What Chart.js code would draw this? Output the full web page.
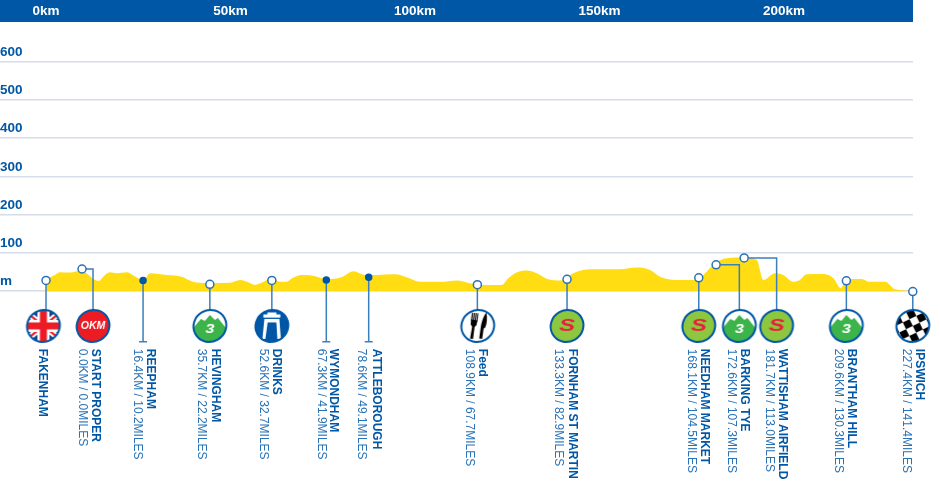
<!DOCTYPE html>
<html><head><meta charset="utf-8">
<style>html,body{margin:0;padding:0;background:#fff}canvas{display:block}</style>
<script src="https://cdn.jsdelivr.net/npm/chart.js@4"></script>
</head><body><canvas id="c" width="940" height="498"></canvas>
<script>
const distanceTicks = [0, 50, 100, 150, 200];
const heightTicks = [0, 100, 200, 300, 400, 500, 600];
const profileKm = [0,1,2.4,3.8,6.5,9.7,11.5,13.3,14.4,15.5,17.3,19.2,21.9,23.7,26.4,28.2,32.7,36.8,39,40.8,44.4,49.9,52.6,54.8,56.6,58.5,61.2,63.4,65.2,67,69.3,72,76.1,80.1,83.3,86.4,89.6,94.6,97.7,101.4,107.7,111.3,114.9,117.6,123.5,125.3,127.5,130.3,133,136.1,139.3,142.9,145.6,149.2,155.5,160.1,163.7,166.4,170.9,175.9,178.1,181.3,184.5,189,192.6,194.4,197.6,199.8,202.5,204.3,206.1,210.7,213.4,215.4,217,221.1,222.9,227.4,230.1,234.9];
const profileM = [28,35,42.5,49.5,48.6,54,42.5,29.5,27,38,49.5,47,49.5,41,28,47,42.5,38,28,22.5,21,22,29.5,23.4,16.5,22.5,34,25,25,35.6,42.5,41,32,36.5,52,42.5,42.5,44,36.5,25,25,28,21,16.5,16.5,34,48.6,54,47,31,28,47,55.6,57.3,57.3,61.7,55.6,38,29.5,29.5,42.5,73,86,88,82,29.5,47,42.5,25,29.5,44,45,34,8,31,32,25,25,5,1];
const stopNames = ["FAKENHAM","START PROPER","REEPHAM","HEVINGHAM","DRINKS","WYMONDHAM","ATTLEBOROUGH","Feed","FORNHAM ST MARTIN","NEEDHAM MARKET","BARKING TYE","WATTISHAM AIRFIELD","BRANTHAM HILL","IPSWICH"];
const stopDetails = ["","0.0KM / 0.0MILES","16.4KM / 10.2MILES","35.7KM / 22.2MILES","52.6KM / 32.7MILES","67.3KM / 41.9MILES","78.6KM / 49.1MILES","108.9KM / 67.7MILES","133.3KM / 82.9MILES","168.1KM / 104.5MILES","172.6KM / 107.3MILES","181.7KM / 113.0MILES","209.6KM / 130.3MILES","227.4KM / 141.4MILES"];
const stopKm = [0,9.76,26.3,44.4,61.2,75.96,87.45,116.9,141.2,176.9,181.6,189.2,216.9,234.9];
const stopM = [28,58,28,18,28,29,36.5,17,31,35,69,87,27,-1];
const badgeKm = [-0.7,12.74,26.3,44.4,61.2,75.96,87.45,117,141.2,176.9,187.9,198,216.9,234.9];
const stopKinds = ["uk","okm","plain","climb","drinks","plain","plain","feed","sprint","sprint","climb","sprint","climb","finish"];

// layout (not data)
const BADGE_M = -90.6, CAP_M = -132, LABEL_M = -150.6;
const nameDx = [-1.5,2,7,5,4.5,7,7.3,5,5,6,4.7,5.5,4.5,6.3];
const detailDx = [0,-10.7,-6,-8.5,-9,-5,-7,-8,-9,-7.7,-8.3,-7.5,-8.3,-6.7];
const BLUE = "#0057a5", STEM = "#3b7fbd", YELLOW = "#ffdd12", GRID = "#d6ddea";

function badge(kind){
  const c = document.createElement("canvas"); c.width = c.height = 40;
  const g = c.getContext("2d");
  const shape = () => { g.beginPath(); g.ellipse(20,20,16.6,15.8,-0.5,0,Math.PI*2); };
  const fills = {uk:"#fff",okm:"#ed1c24",climb:"#fff",drinks:BLUE,feed:"#fff",sprint:"#8dc63f",finish:"#fff"};
  g.save(); shape(); g.fillStyle = fills[kind]; g.fill(); g.clip();
  if(kind==="uk"){
    g.fillStyle="#1d3f8f"; g.fillRect(0,0,40,40);
    g.strokeStyle="#fff"; g.lineWidth=6;
    g.beginPath(); g.moveTo(0,4); g.lineTo(40,36); g.moveTo(40,4); g.lineTo(0,36); g.stroke();
    g.strokeStyle="#ed1c24"; g.lineWidth=2;
    g.beginPath(); g.moveTo(0,4); g.lineTo(40,36); g.moveTo(40,4); g.lineTo(0,36); g.stroke();
    g.fillStyle="#fff"; g.fillRect(14,0,12,40); g.fillRect(0,14,40,12);
    g.fillStyle="#ed1c24"; g.fillRect(16.5,0,7,40); g.fillRect(0,16.5,40,7);
  } else if(kind==="climb"){
    g.fillStyle="#3cb44a";
    g.beginPath(); g.moveTo(0,26); g.lineTo(11,13); g.lineTo(15,15); g.lineTo(20,9); g.lineTo(25,14); g.lineTo(28,12); g.lineTo(40,27); g.lineTo(40,40); g.lineTo(0,40); g.fill();
    g.fillStyle="#fff"; g.font="italic bold 13px 'Liberation Sans'"; g.textAlign="center"; g.textBaseline="middle";
    g.save(); g.translate(20,23.5); g.scale(1.25,1); g.fillText("3",0,0); g.restore();
  } else if(kind==="okm"){
    g.fillStyle="#fff"; g.font="italic bold 10.5px 'Liberation Sans'"; g.textAlign="center"; g.textBaseline="middle"; g.fillText("OKM",20,20.5);
  } else if(kind==="sprint"){
    g.fillStyle="#e8203c"; g.font="italic bold 16px 'Liberation Sans'"; g.textAlign="center"; g.textBaseline="middle";
    g.save(); g.translate(20,20.5); g.scale(1.5,1); g.fillText("S",0,0); g.restore();
  } else if(kind==="drinks"){
    g.fillStyle="#fff"; g.fillRect(11.5,8.5,17,3.2); g.fillRect(15.5,6.5,9,2.5);
    g.beginPath(); g.moveTo(12.5,13); g.lineTo(27.5,13); g.lineTo(29,33); g.lineTo(25.5,33); g.lineTo(24.5,16.5); g.lineTo(15.8,16.5); g.lineTo(13.5,33); g.lineTo(10.5,33); g.closePath(); g.fill();
  } else if(kind==="feed"){
    g.fillStyle="#000";
    g.save(); g.translate(16,20); g.rotate(0.13);
    g.fillRect(-3.5,-13,1.1,8); g.fillRect(-1.7,-13,1.1,8); g.fillRect(0.1,-13,1.1,8); g.fillRect(1.9,-13,1.1,8);
    g.beginPath(); g.moveTo(-3.5,-6); g.lineTo(3,-6); g.lineTo(2.6,-1); g.lineTo(1,1); g.lineTo(1,13); g.lineTo(-2,13); g.lineTo(-1.5,1); g.lineTo(-3.2,-1); g.fill();
    g.restore();
    g.save(); g.translate(25,20); g.rotate(0.16);
    g.beginPath(); g.moveTo(1.5,-14); g.quadraticCurveTo(4.5,-5,2.5,2); g.lineTo(1.3,2); g.lineTo(1.5,13); g.lineTo(-1.5,13); g.lineTo(-1.8,0); g.quadraticCurveTo(-1.5,-9,1.5,-14); g.fill();
    g.restore();
  } else if(kind==="finish"){
    g.translate(20,20); g.rotate(-0.45); g.fillStyle="#000";
    for(let i=-4;i<4;i++) for(let j=-4;j<4;j++) if((i+j+8)%2===0) g.fillRect(i*7.5,j*7.5,7.5,7.5);
  }
  g.restore();
  shape(); g.strokeStyle=BLUE; g.lineWidth=2; g.stroke();
  return c;
}

const datasets = [];
datasets.push({
  type:"scatter", order:0, clip:false, showLine:false,
  data: stopKinds.map((k,i)=>k==="plain"?null:({x:badgeKm[i],y:BADGE_M})).filter(Boolean),
  pointStyle: stopKinds.filter(k=>k!=="plain").map(badge),
  pointRadius:17, pointHoverRadius:17
});
stopNames.forEach((n,i)=>{
  const plain = stopKinds[i]==="plain";
  const elbow = Math.abs(badgeKm[i]-stopKm[i])>2;
  const pts = [{x:stopKm[i],y:stopM[i]}];
  if(elbow) pts.push({x:badgeKm[i],y:stopM[i]});
  pts.push({x:elbow?badgeKm[i]:stopKm[i],y:plain?CAP_M:BADGE_M});
  datasets.push({
    type:"scatter", order:1, clip:false, showLine:true, tension:0,
    data:pts, borderColor:STEM, borderWidth:1.5,
    pointStyle:pts.map((p,k)=>k===0?"circle":(plain?"line":"circle")),
    pointRadius:pts.map((p,k)=>k===0?(plain?3:4):(plain&&k===pts.length-1?4:0)),
    pointBorderWidth:1.5,
    pointBackgroundColor:plain?BLUE:"#fff",
    pointBorderColor:pts.map((p,k)=>k===0?(plain?BLUE:"#2a72b5"):STEM)
  });
});
datasets.push({
  type:"line", order:5, clip:false,
  data:profileKm.map((x,i)=>({x,y:profileM[i]})),
  borderWidth:0, pointRadius:0, fill:"origin", backgroundColor:YELLOW,
  cubicInterpolationMode:"monotone"
});

const stopLabels = {
  id:"stopLabels",
  afterDatasetsDraw(chart){
    const {ctx,scales:{x,y}} = chart;
    stopNames.forEach((n,i)=>{
      const bx = x.getPixelForValue(badgeKm[i]), ty = y.getPixelForValue(LABEL_M);
      const put = (t,px,font,col)=>{
        ctx.save(); ctx.translate(px,ty); ctx.rotate(Math.PI/2);
        ctx.font=font; ctx.fillStyle=col; ctx.textAlign="left"; ctx.textBaseline="middle";
        ctx.fillText(t,0,0); ctx.restore();
      };
      put(n,bx+nameDx[i],"bold 12px 'Liberation Sans'",BLUE);
      if(stopDetails[i]) put(stopDetails[i],bx+detailDx[i],"12px 'Liberation Sans'","#2a72b5");
    });
  }
};

new Chart(document.getElementById("c"),{
  type:"line",
  data:{datasets},
  plugins:[stopLabels],
  options:{
    responsive:false, animation:false, events:[],
    layout:{autoPadding:false,padding:{right:27,left:0,top:0,bottom:0}},
    plugins:{legend:{display:false},tooltip:{enabled:false},title:{display:false}},
    scales:{
      x:{
        type:"linear", position:"top", min:-12.47, max:234.96,
        backgroundColor:BLUE,
        grid:{display:false,drawTicks:false}, border:{display:false},
        afterFit:s=>{s.height=22;},
        afterBuildTicks:s=>{s.ticks=distanceTicks.map(value=>({value}));},
        ticks:{color:"#fff",font:{family:"'Liberation Sans'",size:13.5,weight:"bold"},padding:2.5,autoSkip:false,maxRotation:0,callback:v=>v+"km"}
      },
      y:{
        type:"linear", position:"left", min:-518.9, max:703,
        grid:{color:GRID,lineWidth:1.5,drawTicks:false}, border:{display:false},
        afterFit:s=>{s.width=0;},
        afterBuildTicks:s=>{s.ticks=heightTicks.map(value=>({value}));},
        ticks:{color:BLUE,mirror:true,padding:0,labelOffset:-9.5,font:{family:"'Liberation Sans'",size:13.5,weight:"bold"},autoSkip:false,callback:v=>v===0?"m":String(v)}
      }
    }
  }
});
</script></body></html>
